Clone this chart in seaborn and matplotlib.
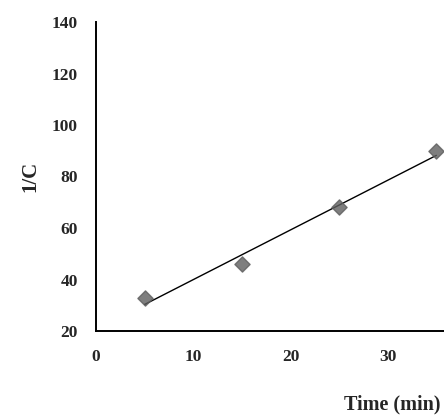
import matplotlib
matplotlib.use("Agg")
import matplotlib.pyplot as plt
import seaborn as sns
import numpy as np
import pandas as pd

time_min = [5, 15, 25, 35]
inv_c = [33, 46, 68, 90]
x_ticks = [0, 10, 20, 30]
y_ticks = [20, 40, 60, 80, 100, 120, 140]

sns.set_style("white")
plt.rcParams['font.family'] = ['Liberation Serif', 'DejaVu Serif']

df = pd.DataFrame({"t": time_min, "c": inv_c})

fig = plt.figure(figsize=(4.44, 4.16), dpi=100)
ax = fig.add_axes([96/444, 85/416, 389/444, 309/416])

sns.regplot(data=df, x="t", y="c", ax=ax, ci=None,
            marker="D", scatter_kws=dict(s=60, color="#5e5e5e", edgecolor="#5e5e5e", zorder=3),
            line_kws=dict(color="black", lw=1.0, zorder=2))

ax.set_xlim(0, 40)
ax.set_ylim(20, 140)
ax.set_xticks(x_ticks)
ax.set_yticks(y_ticks)
for s in ["top", "right"]:
    ax.spines[s].set_visible(False)
for s in ["left", "bottom"]:
    ax.spines[s].set_color("black")
    ax.spines[s].set_linewidth(1.4)
ax.tick_params(axis="both", direction="out", length=5, width=1, color="black",
               labelsize=12.5, pad=8)
for lab in ax.get_xticklabels() + ax.get_yticklabels():
    lab.set_fontweight("bold")

ax.set_xlabel("")
ax.set_ylabel("")
fig.text(392/444, 1 - 404/416, "Time (min)", ha="center", va="center",
         fontsize=14.5, fontweight="bold")
fig.text(30/444, 1 - 176/416, "1/C", ha="center", va="center", rotation=90,
         fontsize=15, fontweight="bold")

fig.savefig("out.png", dpi=100)
